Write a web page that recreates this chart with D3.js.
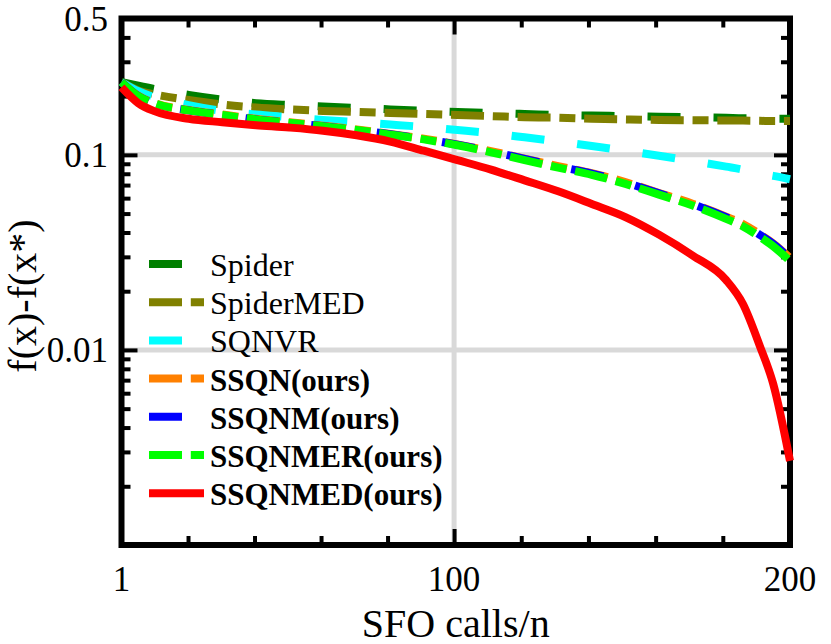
<!DOCTYPE html>
<html lang="en">
<head>
  <meta charset="UTF-8">
  <script src="https://d3js.org/d3.v7.min.js"></script>
  <style>
    body {
      margin: 0;
      background: #fff;
    }
    #chart {
      position: relative;
      width: 831px;
      height: 644px;
    }
    #chart svg {
      position: absolute;
      left: 0;
      top: 0;
    }
    #labels div {
      position: absolute;
      height: 0;
      white-space: nowrap;
      color: #000;
      transform-origin: 0 0;
    }
  </style>
</head>
<body>

<div id="chart">
  <svg width="831" height="644"></svg>
  <div id="labels"></div>
</div>

<script>
  // x positions (SFO calls/n) shared by all series
  const calls = [1, 6, 11, 21, 31, 41, 51, 61, 71, 81, 91, 101, 111, 121, 131, 141, 151, 161, 171, 181, 186, 191, 195, 200];

  // f(x)-f(x*)
  const spider    = [0.236, 0.226, 0.217, 0.203, 0.192, 0.184, 0.180, 0.177, 0.174, 0.171, 0.168, 0.166, 0.164, 0.162, 0.160, 0.159, 0.158, 0.157, 0.156, 0.155, 0.154, 0.154, 0.153, 0.153];
  const spiderMED = [0.236, 0.214, 0.204, 0.191, 0.181, 0.175, 0.171, 0.168, 0.166, 0.164, 0.162, 0.160, 0.158, 0.156, 0.155, 0.153, 0.152, 0.151, 0.1505, 0.150, 0.1498, 0.1495, 0.149, 0.149];
  const sqnvr     = [0.236, 0.212, 0.197, 0.180, 0.168, 0.161, 0.156, 0.151, 0.147, 0.143, 0.139, 0.134, 0.129, 0.123, 0.117, 0.111, 0.105, 0.099, 0.093, 0.087, 0.084, 0.080, 0.078, 0.075];
  const ssqn      = [0.236, 0.201, 0.184, 0.170, 0.161, 0.153, 0.147, 0.141, 0.135, 0.128, 0.121, 0.113, 0.1045, 0.0955, 0.0875, 0.0805, 0.0725, 0.0638, 0.0562, 0.0482, 0.0442, 0.0392, 0.0352, 0.0296];
  const ssqnm     = [0.236, 0.200, 0.183, 0.169, 0.160, 0.152, 0.146, 0.140, 0.134, 0.1275, 0.1205, 0.1128, 0.1042, 0.0952, 0.0872, 0.0802, 0.0722, 0.0635, 0.0559, 0.0479, 0.0439, 0.0389, 0.0349, 0.0294];
  const ssqnmer   = [0.236, 0.200, 0.183, 0.169, 0.160, 0.152, 0.146, 0.140, 0.134, 0.127, 0.120, 0.112, 0.103, 0.094, 0.086, 0.079, 0.071, 0.0625, 0.055, 0.047, 0.043, 0.038, 0.034, 0.0285];
  const ssqnmed   = [0.222, 0.184, 0.167, 0.153, 0.147, 0.142, 0.138, 0.133, 0.126, 0.117, 0.105, 0.094, 0.084, 0.074, 0.065, 0.056, 0.048, 0.039, 0.0305, 0.0228, 0.0172, 0.0105, 0.0067, 0.0027];

  const names = ['Spider', 'SpiderMED', 'SQNVR', 'SSQN(ours)', 'SSQNM(ours)', 'SSQNMER(ours)', 'SSQNMED(ours)'];

  const xMajor = [1, 100, 200];
  const yLabels = [0.5, 0.1, 0.01];
  const yGrid = [0.1, 0.01];

  const dashed = '33,33';
  const dashDot = '33,8.8,16,8.8';

  const series = [
    { name: names[0], values: spider,    color: '#007f00', dash: dashed,  bold: false },
    { name: names[1], values: spiderMED, color: '#808000', dash: dashDot, bold: false },
    { name: names[2], values: sqnvr,     color: '#00ffff', dash: dashed,  bold: false },
    { name: names[3], values: ssqn,      color: '#ff8000', dash: dashDot, bold: true },
    { name: names[4], values: ssqnm,     color: '#0000ff', dash: dashed,  bold: true },
    { name: names[5], values: ssqnmer,   color: '#00ff00', dash: dashDot, bold: true },
    { name: names[6], values: ssqnmed,   color: '#ff0000', dash: null,    bold: true }
  ];

  const svg = d3.select('svg');
  const labels = d3.select('#labels');

  const x = d3.scaleLinear().domain([1, 200]).range([121.5, 790]);
  const y = d3.scaleLog().domain([0.001, 0.5]).range([545, 18.5]);

  // minor x ticks: five equal steps between major ticks
  const xMinor = [];
  for (let i = 0; i < xMajor.length - 1; i++) {
    const a = xMajor[i], b = xMajor[i + 1];
    for (let k = 1; k < 5; k++) xMinor.push(a + (b - a) * k / 5);
  }

  // minor y ticks: 2..9 times each decade
  const yMinor = [];
  [0.001, 0.01, 0.1].forEach(d => {
    for (let k = 2; k <= 9; k++) {
      const v = d * k;
      if (v < 0.5) yMinor.push(v);
    }
  });
  const yMajor = [0.01, 0.1];

  // grid
  const grid = svg.append('g').attr('stroke', '#d9d9d9').attr('stroke-width', 5);
  grid.append('line')
    .attr('x1', x(100)).attr('x2', x(100))
    .attr('y1', y(0.5)).attr('y2', y(0.001));
  grid.selectAll('.hg')
    .data(yGrid)
    .enter().append('line')
    .attr('x1', x(1)).attr('x2', x(200))
    .attr('y1', d => y(d)).attr('y2', d => y(d));

  // ticks, pointing inward on all four sides
  function tickAxis(axis, values, size, transform) {
    const g = svg.append('g')
      .attr('transform', transform)
      .call(axis.tickValues(values).tickSize(size).tickFormat(''));
    g.select('.domain').remove();
    g.selectAll('.tick line').attr('stroke', '#000').attr('stroke-width', 4);
  }

  const atBottom = `translate(0,${y(0.001)})`;
  const atTop = `translate(0,${y(0.5)})`;
  const atLeft = `translate(${x(1)},0)`;
  const atRight = `translate(${x(200)},0)`;

  tickAxis(d3.axisBottom(x), xMinor, -9, atBottom);
  tickAxis(d3.axisBottom(x), [100], -16, atBottom);
  tickAxis(d3.axisTop(x), xMinor, -9, atTop);
  tickAxis(d3.axisTop(x), [100], -16, atTop);
  tickAxis(d3.axisLeft(y), yMinor, -9, atLeft);
  tickAxis(d3.axisLeft(y), yMajor, -16, atLeft);
  tickAxis(d3.axisRight(y), yMinor, -9, atRight);
  tickAxis(d3.axisRight(y), yMajor, -16, atRight);

  // frame
  svg.append('rect')
    .attr('x', x(1)).attr('y', y(0.5))
    .attr('width', x(200) - x(1)).attr('height', y(0.001) - y(0.5))
    .attr('fill', 'none')
    .attr('stroke', '#000')
    .attr('stroke-width', 6);

  // series
  const line = d3.line()
    .x((d, i) => x(calls[i]))
    .y(d => y(d))
    .curve(d3.curveMonotoneX);

  svg.selectAll('.series')
    .data(series)
    .enter().append('path')
    .attr('d', d => line(d.values))
    .attr('fill', 'none')
    .attr('stroke', d => d.color)
    .attr('stroke-width', 8)
    .attr('stroke-linejoin', 'round')
    .attr('stroke-dasharray', d => d.dash);

  // text laid out as html with the font shorthand set inline;
  // with line-height 0 the baseline sits 0.3375em below the box top
  function place(sel, px, py, size, anchor, rot, bold) {
    const shift = anchor === 'middle' ? '-50%' : anchor === 'end' ? '-100%' : '0';
    sel.attr('style',
      `position:absolute;left:${px}px;top:${py}px;` +
      `font:${bold ? 'bold ' : ''}${size}px/0 'Liberation Serif';` +
      `transform:${rot ? `rotate(${rot}deg) ` : ''}translate(${shift},${-0.3375 * size}px);`);
  }

  // tick labels
  labels.selectAll('.xl')
    .data(xMajor)
    .enter().append('div')
    .attr('class', 'xl')
    .each(function(d) { place(d3.select(this), x(d), 592, 35, 'middle'); })
    .text(d => d);

  labels.selectAll('.yl')
    .data(yLabels)
    .enter().append('div')
    .attr('class', 'yl')
    .each(function(d) { place(d3.select(this), 108, y(d) + 13, 35, 'end'); })
    .text(d => d);

  // axis titles
  labels.append('div')
    .call(place, (x(1) + x(200)) / 2, 637, 40, 'middle')
    .text('SFO calls/n');

  labels.append('div')
    .call(place, 36, 296, 40, 'middle', -90)
    .text('f(x)-f(x*)');

  // legend, no box
  const legend = svg.append('g');
  const row = legend.selectAll('g')
    .data(series)
    .enter().append('g')
    .attr('transform', (d, i) => `translate(0,${264 + i * 38.2})`);

  row.append('line')
    .attr('x1', 149).attr('x2', 204)
    .attr('stroke', d => d.color)
    .attr('stroke-width', 8)
    .attr('stroke-dasharray', d => d.dash);

  labels.selectAll('.lg')
    .data(series)
    .enter().append('div')
    .attr('class', 'lg')
    .each(function(d, i) { place(d3.select(this), 210, 264 + i * 38.2 + 12, d.bold ? 31 : 32, 'start', 0, d.bold); })
    .text(d => d.name);
</script>

</body>
</html>
